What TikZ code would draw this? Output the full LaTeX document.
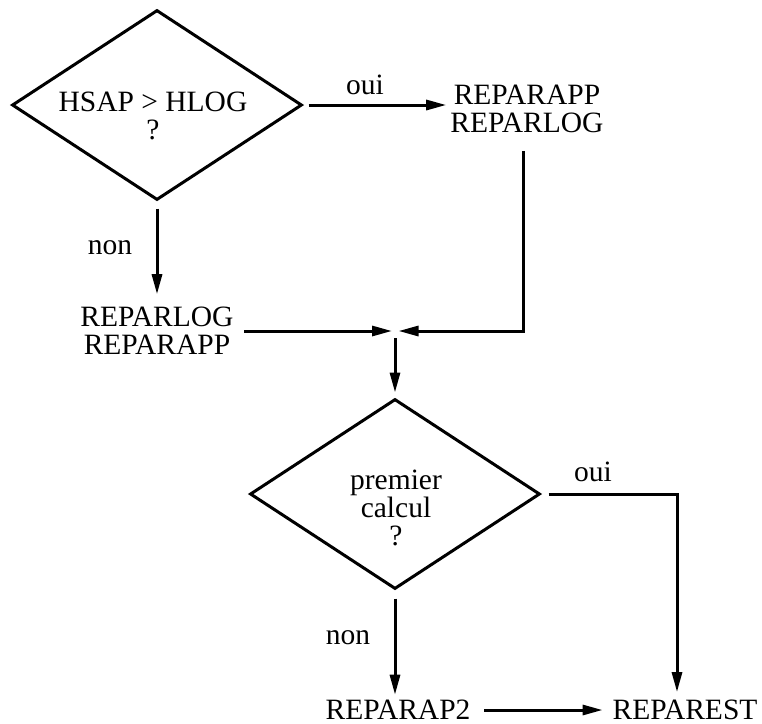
\documentclass[tikz,border=0pt]{standalone}
\usepackage{fontspec}
\setmainfont{Liberation Serif}
\usetikzlibrary{shapes.geometric,arrows.meta}

\begin{document}
\begin{tikzpicture}[x=0.4pt,y=-0.4pt,
    every node/.style={font=\fontsize{11.8}{11.2}\selectfont, align=center, inner sep=1pt},
    decision/.style={diamond, draw, line width=1.2pt, minimum width=116pt, minimum height=76pt, inner sep=0pt},
    arr/.style={-{Triangle[length=8pt,width=4pt]}, line width=1.2pt}]
    \useasboundingbox (0,0) rectangle (762,723);
    \node[decision] (d1) at (157,105) {};
    \node (q1) at (153,116) {HSAP > HLOG\\?};
    \node (app1) at (527,109) {REPARAPP\\REPARLOG};
    \node (log1) at (157,331) {REPARLOG\\REPARAPP};
    \coordinate (j) at (395,331);
    \node[decision] (d2) at (395,494) {};
    \node (q2) at (396,508) {premier\\calcul\\?};
    \node (ap2) at (398,710) {REPARAP2};
    \node (est) at (685,710) {REPAREST};
    \node (oui1) at (365,85) {oui};
    \node (non1) at (110,248) {non};
    \node (oui2) at (593,472) {oui};
    \node (non2) at (348,638) {non};
    \draw[arr, shorten <=2pt, shorten >=0.5pt] (d1.east) -- (d1.east -| app1.west);
    \draw[arr, shorten <=2.8pt, shorten >=4pt] (d1.south) -- (log1.north);
    \draw[arr, shorten <=3pt, shorten >=1.2pt] (log1.east) -- (j);
    \draw[arr, shorten <=6pt, shorten >=1.4pt] ([xshift=-1.6pt]app1.south) |- (j);
    \draw[arr, shorten <=2.8pt, shorten >=2pt] (j) -- (d2.north);
    \draw[arr, shorten <=2.8pt, shorten >=2pt] (d2.east) -| ([xshift=-3.2pt]est.north);
    \draw[arr, shorten <=3.2pt, shorten >=1pt] (d2.south) -- (d2.south |- ap2.north);
    \draw[arr, shorten <=4.4pt, shorten >=2.8pt] (ap2.east) -- (est.west);
\end{tikzpicture}
\end{document}
